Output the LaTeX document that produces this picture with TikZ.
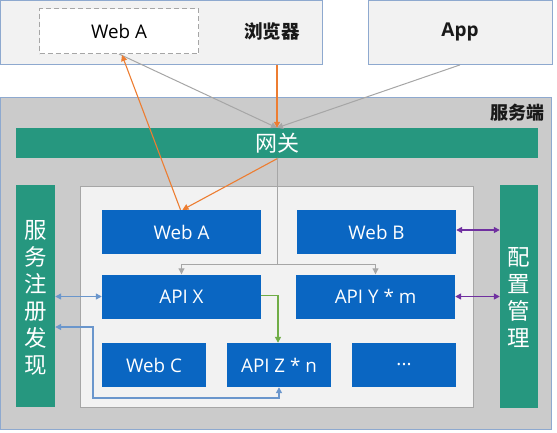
\documentclass[tikz,border=0pt]{standalone}
\usepackage{fontspec}
\setmainfont{Open Sans}
\newfontfamily\cjk{Noto Sans CJK SC}
\usetikzlibrary{arrows.meta}
\definecolor{tealc}{HTML}{26977F}
\definecolor{bluec}{HTML}{0A66C2}
\definecolor{srvgray}{HTML}{CBCBCB}
\definecolor{lightf}{HTML}{F2F2F2}
\definecolor{edgeb}{HTML}{8EA9CF}
\definecolor{grayl}{HTML}{A6A6A6}
\definecolor{orangec}{HTML}{ED7D31}
\definecolor{greenc}{HTML}{70AD47}
\definecolor{purplec}{HTML}{7030A0}
\definecolor{bluel}{HTML}{6A96CC}
\begin{document}
\begin{tikzpicture}[x=1pt,y=-1pt,
  outerbox/.style={draw=edgeb,line width=0.8pt,fill=lightf,inner sep=0pt},
  srvbox/.style={draw=edgeb,line width=0.8pt,fill=srvgray,inner sep=0pt},
  tealbox/.style={fill=tealc,inner sep=0pt,text=white},
  bluebox/.style={fill=bluec,inner sep=0pt,text=white,font=\fontsize{18.8}{20}\selectfont},
  innerbox/.style={draw=grayl,line width=0.8pt,fill=lightf,inner sep=0pt},
  tip/.style={-{Triangle[length=6pt,width=6pt]}},
  dtip/.style={{Triangle[length=6pt,width=6pt]}-{Triangle[length=6pt,width=6pt]}},
  grayarrow/.style={tip,draw=grayl,line width=1pt},
  orangearrow/.style={tip,draw=orangec,line width=1.1pt},
  greenarrow/.style={tip,draw=greenc,line width=1.4pt},
  purplearrow/.style={dtip,draw=purplec,line width=1.4pt},
  bluearrow/.style={dtip,draw=bluel,line width=1.3pt},
  vtext/.style={align=center,font=\cjk\fontsize{22.5}{27}\selectfont,text=white}
]
\useasboundingbox (0,0) rectangle (557,432);
% top boxes
\node[outerbox,minimum width=322pt,minimum height=64pt] (bro) at (161.5,32.5) {};
\node[draw=grayl,dashed,line width=1pt,dash pattern=on 5pt off 3pt,fill=white,minimum width=159pt,minimum height=45pt,inner sep=0pt] (dwa) at (119,31) {};
\node[font=\fontsize{18.8}{20}\selectfont] (dwat) at (119,31) {Web A};
\node[font=\cjk\bfseries\fontsize{18.5}{20}\selectfont,text=black!90] (brot) at (272,31) {浏览器};
\node[outerbox,minimum width=184pt,minimum height=64pt] (app) at (460,32.5) {};
\node[font=\bfseries\fontsize{19}{20}\selectfont,text=black!90] (appt) at (460,32) {App};
% server
\node[srvbox,minimum width=551pt,minimum height=332pt] (srv) at (275.5,263) {};
\node[font=\cjk\bfseries\fontsize{18}{20}\selectfont,text=black!90] (srvt) at (517,113) {服务端};
\node[tealbox,minimum width=522pt,minimum height=30pt,font=\cjk\fontsize{22}{24}\selectfont] (gw) at (277,143) {网关};
\node[innerbox,minimum width=393pt,minimum height=221pt] (inner) at (276.5,296.5) {};
\node[tealbox,minimum width=39pt,minimum height=222pt] (reg) at (35.5,296) {};
\node[vtext] (regt) at (35.5,298) {服\\务\\注\\册\\发\\现};
\node[tealbox,minimum width=38pt,minimum height=223pt] (cfg) at (519,296.5) {};
\node[vtext] (cfgt) at (519,298) {配\\置\\管\\理};
% blue boxes
\node[bluebox,minimum width=159pt,minimum height=44pt] (wa) at (181.5,232) {Web A};
\node[bluebox,minimum width=159pt,minimum height=44pt] (wb) at (376.5,232) {Web B};
\node[bluebox,minimum width=159pt,minimum height=44pt] (ax) at (181.5,296.5) {API X};
\node[bluebox,minimum width=159pt,minimum height=44pt] (ay) at (375.5,296.5) {API Y * m};
\node[bluebox,minimum width=104pt,minimum height=44pt] (wc) at (154,365) {Web C};
\node[bluebox,minimum width=104pt,minimum height=44pt] (az) at (279,365) {API Z * n};
\node[bluebox,minimum width=104pt,minimum height=44pt] (dots) at (404,365) {...};
% connectors top
\draw[grayarrow] (dwa.south) -- (gw.north);
\draw[grayarrow] (app.south) -- (gw.north);
\draw[orangearrow] (gw.north |- bro.south) -- (gw.north);
\draw[orangearrow] ([xshift=-1pt]wa.north) -- ([xshift=3pt,yshift=-1pt]dwa.south);
\draw[orangearrow] ([xshift=1pt]gw.south) -- ([xshift=1pt]wa.north);
% gateway distribution
\coordinate (j) at (277,264);
\draw[draw=grayl,line width=1pt] (gw.south) -- (j);
\draw[grayarrow] (j) -| (ax.north);
\draw[grayarrow] (j) -| (ay.north);
% green
\draw[greenarrow] ([yshift=1pt]ax.east) -| ([xshift=-1pt]az.north);
% purple
\draw[purplearrow] ([yshift=2pt]wb.east) -- ([yshift=2pt]wb.east -| cfg.west);
\draw[purplearrow] (ay.east) -- (ay.east -| cfg.west);
% blue
\draw[bluearrow] (reg.east |- ax.west) -- (ax.west);
\coordinate (b1) at (93,398);
\coordinate (b2) at (93,327);
\draw[bluearrow] (az.south) |- (b1) -- (b2) -- (b2 -| reg.east);
\end{tikzpicture}
\end{document}
